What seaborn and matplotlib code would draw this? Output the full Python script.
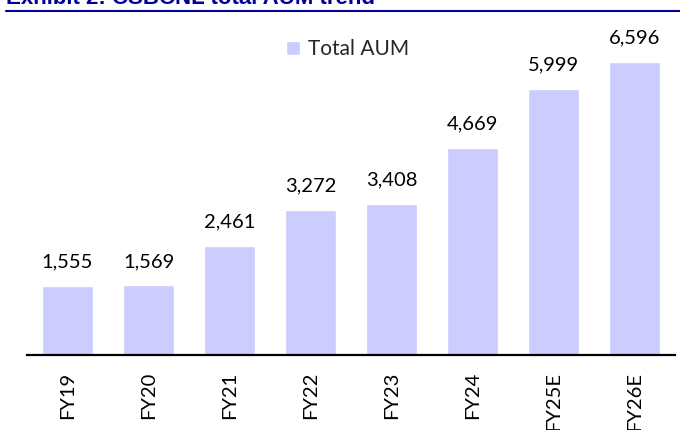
import matplotlib
matplotlib.use("Agg")
import matplotlib.pyplot as plt
import seaborn as sns
import pandas as pd

# data
years = ["FY19", "FY20", "FY21", "FY22", "FY23", "FY24", "FY25E", "FY26E"]
total_aum = [1555, 1569, 2461, 3272, 3408, 4669, 5999, 6596]

BAR = "#CCCCFF"
NAVY = "#000099"


def main():
    sns.set_style("white")
    plt.rcParams["font.family"] = ["Lato", "DejaVu Sans"]

    df = pd.DataFrame({"year": years, "aum": total_aum})

    fig = plt.figure(figsize=(6.8, 4.3), dpi=100)
    ax = fig.add_axes([27 / 680, 1 - 355 / 430, 648 / 680, 333 / 430])

    sns.barplot(data=df, x="year", y="aum", color=BAR, width=0.64,
                saturation=1, label="Total AUM", ax=ax)
    ax.set_ylim(0, 7500)
    ax.set_xlim(-0.5, len(years) - 0.5)

    labels = [f"{v:,}" for v in total_aum]
    ax.bar_label(ax.containers[0], labels=labels, padding=11, fontsize=14.5,
                 color="#000000")

    ax.set_xlabel("")
    ax.set_ylabel("")
    ax.set_yticks([])
    ax.tick_params(axis="x", length=0, pad=12, labelsize=14.5,
                   labelrotation=90, labelcolor="#000000")
    for side in ["top", "left", "right"]:
        ax.spines[side].set_visible(False)
    ax.spines["bottom"].set_color("black")
    ax.spines["bottom"].set_linewidth(1.6)

    ax.legend(loc="center left", bbox_to_anchor=(286 / 680, 1 - 49 / 430),
              bbox_transform=fig.transFigure, frameon=False, fontsize=15,
              handlelength=0.65, handleheight=0.65, handletextpad=0.4,
              borderpad=0, borderaxespad=0)

    # title strip, cropped off at the top in the source image too
    fig.text(6 / 680, 1 - 3.5 / 430, "Exhibit 2: CSBCNL total AUM trend",
             fontsize=16, fontweight="bold", color=NAVY, va="baseline",
             family=["Liberation Sans", "DejaVu Sans"])
    fig.add_artist(plt.Line2D([6 / 680, 1], [1 - 10.5 / 430] * 2,
                              transform=fig.transFigure, color=NAVY, lw=1.5))

    fig.savefig("out.png", dpi=100)


if __name__ == "__main__":
    main()
